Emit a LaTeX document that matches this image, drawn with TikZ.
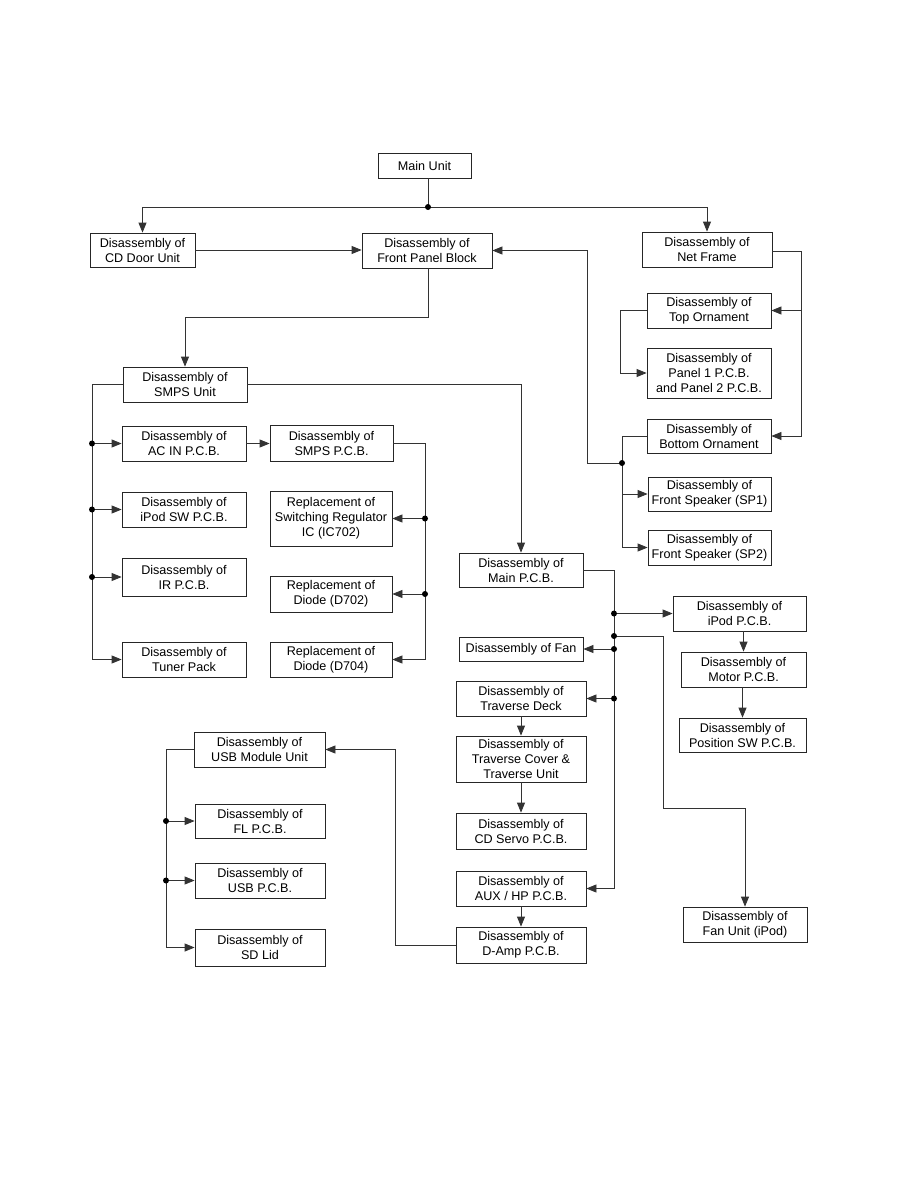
\documentclass[tikz,border=0pt]{standalone}
\usepackage{fontspec}
\setmainfont{Liberation Sans}
\usetikzlibrary{arrows.meta}
\tikzset{
  box/.style={draw=black!85, line width=0.8pt, inner sep=0pt, align=center,
    font=\fontsize{12.6}{15}\selectfont},
  ln/.style={draw=black!80, line width=0.8pt},
  arr/.style={ln, -{Triangle[length=10pt,width=8pt]}},
  jdot/.style={circle, fill=black, inner sep=0pt, minimum size=6pt}
}
\newcommand{\bx}[6]{\node[box, minimum width=#4pt, minimum height=#5pt] (#1) at (#2,#3) {#6};}
\begin{document}
\begin{tikzpicture}[x=1pt,y=-1pt]
\useasboundingbox[fill=white] (0,0) rectangle (918,1188);
% boxes
\bx{main}{424.5}{165.5}{93}{25}{Main Unit}
\bx{cd}{142.5}{250}{105}{34}{Disassembly of\\CD Door Unit}
\bx{fp}{427}{250.5}{130}{35}{Disassembly of\\Front Panel Block}
\bx{nf}{707}{249.5}{130}{35}{Disassembly of\\Net Frame}
\bx{top}{709}{310.5}{124}{35}{Disassembly of\\Top Ornament}
\bx{pan}{709}{373}{124}{50}{Disassembly of\\Panel 1 P.C.B.\\and Panel 2 P.C.B.}
\bx{bot}{709}{436}{124}{34}{Disassembly of\\Bottom Ornament}
\bx{sp1}{709.5}{494}{123}{34}{Disassembly of\\Front Speaker (SP1)}
\bx{sp2}{709.5}{547.5}{123}{35}{Disassembly of\\Front Speaker (SP2)}
\bx{smps}{185}{384.5}{124}{35}{Disassembly of\\SMPS Unit}
\bx{acin}{184}{443.5}{124}{35}{Disassembly of\\AC IN P.C.B.}
\bx{smpspcb}{331.5}{443}{123}{36}{Disassembly of\\SMPS P.C.B.}
\bx{ipodsw}{184}{509.5}{124}{35}{Disassembly of\\iPod SW P.C.B.}
\bx{swreg}{331}{518.5}{122}{55}{Replacement of\\Switching Regulator\\IC (IC702)}
\bx{ir}{184}{577}{124}{38}{Disassembly of\\IR P.C.B.}
\bx{dsev}{331}{594}{122}{36}{Replacement of\\Diode (D702)}
\bx{tuner}{184}{659.5}{124}{35}{Disassembly of\\Tuner Pack}
\bx{dfour}{331}{659.5}{122}{35}{Replacement of\\Diode (D704)}
\bx{mainpcb}{521}{570}{124}{34}{Disassembly of\\Main P.C.B.}
\bx{ipodpcb}{739.5}{613.5}{133}{35}{Disassembly of\\iPod P.C.B.}
\bx{motor}{743.5}{669.5}{125}{35}{Disassembly of\\Motor P.C.B.}
\bx{possw}{742.5}{735}{127}{34}{Disassembly of\\Position SW P.C.B.}
\bx{fanunit}{745}{924.5}{124}{35}{Disassembly of\\Fan Unit (iPod)}
\bx{fan}{521}{649}{124}{24}{Disassembly of Fan}
\bx{trdeck}{521}{698.5}{130}{35}{Disassembly of\\Traverse Deck}
\bx{trcover}{521}{759}{130}{46}{Disassembly of\\Traverse Cover \&\\Traverse Unit}
\bx{cdservo}{521}{831}{130}{36}{Disassembly of\\CD Servo P.C.B.}
\bx{aux}{521}{888.5}{130}{35}{Disassembly of\\AUX / HP P.C.B.}
\bx{damp}{521}{945}{130}{36}{Disassembly of\\D-Amp P.C.B.}
\bx{usbmod}{259.5}{749.5}{131}{35}{Disassembly of\\USB Module Unit}
\bx{fl}{260}{821}{130}{34}{Disassembly of\\FL P.C.B.}
\bx{usbpcb}{260}{880.5}{130}{35}{Disassembly of\\USB P.C.B.}
\bx{sdlid}{260}{947.5}{130}{37}{Disassembly of\\SD Lid}
% coordinates
\coordinate (j0) at (428,207);
\coordinate (nfr) at (801,251);
\coordinate (j1) at (622,463);
\coordinate (c1) at (428,317);
\coordinate (c2) at (587,463);
\coordinate (d1) at (92,443.5);
\coordinate (d2) at (92,509.5);
\coordinate (d3) at (92,577);
\coordinate (e1) at (425,518.5);
\coordinate (e2) at (425,594);
\coordinate (f1) at (614,613.5);
\coordinate (f2) at (614,636);
\coordinate (f3) at (614,649);
\coordinate (f4) at (614,698.5);
\coordinate (h1) at (663,636);
\coordinate (h2) at (663,808);
\coordinate (k1) at (395,945);
\coordinate (g1) at (166,821);
\coordinate (g2) at (166,880.5);
% connectors
\draw[ln] (main.south -| j0) -- (j0);
\draw[arr] (j0) -| (cd.north);
\draw[arr] (j0) -| (nf.north);
\draw[arr] (cd.east) -- (cd.east -| fp.west);
\draw[arr] (fp.south -| c1) -- (c1) -| (smps.north);
\draw[ln] (nf.east |- nfr) -- (nfr);
\draw[arr] (nfr) |- (top.east);
\draw[arr] (nfr) |- (bot.east);
\draw[arr] (top.west) -- ++(-26,0) |- (pan.west);
\draw[ln] (bot.west) -| (j1);
\draw[arr] (j1) -- (c2) |- (fp.east);
\draw[arr] (j1) |- (sp1.west);
\draw[arr] (j1) |- (sp2.west);
\draw[arr] (smps.west) -- (smps.west -| d1) |- (tuner.west);
\draw[arr] (d1) -- (acin.west);
\draw[arr] (d2) -- (ipodsw.west);
\draw[arr] (d3) -- (ir.west);
\draw[arr] (smps.east) -| (mainpcb.north);
\draw[arr] (acin.east) -- (acin.east -| smpspcb.west);
\draw[arr] (smpspcb.east) -- (smpspcb.east -| e1) |- (dfour.east);
\draw[arr] (e1) -- (swreg.east);
\draw[arr] (e2) -- (dsev.east);
\draw[arr] (mainpcb.east) -- (mainpcb.east -| f1) |- (aux.east);
\draw[arr] (f1) -- (ipodpcb.west);
\draw[arr] (f3) -- (fan.east);
\draw[arr] (f4) -- (trdeck.east);
\draw[arr] (f2) -- (h1) -- (h2) -| (fanunit.north);
\draw[arr] (motor.north |- ipodpcb.south) -- (motor.north);
\draw[arr] (motor.south -| possw.north) -- (possw.north);
\draw[arr] (trdeck.south) -- (trcover.north);
\draw[arr] (trcover.south) -- (cdservo.north);
\draw[arr] (aux.south) -- (damp.north);
\draw[arr] (damp.west) -- (k1) |- (usbmod.east);
\draw[arr] (usbmod.west) -- (usbmod.west -| g1) |- (sdlid.west);
\draw[arr] (g1) -- (fl.west);
\draw[arr] (g2) -- (usbpcb.west);
% junction dots
\foreach \p in {j0,j1,d1,d2,d3,e1,e2,f1,f2,f3,f4,g1,g2} \node[jdot] at (\p) {};
\end{tikzpicture}
\end{document}
